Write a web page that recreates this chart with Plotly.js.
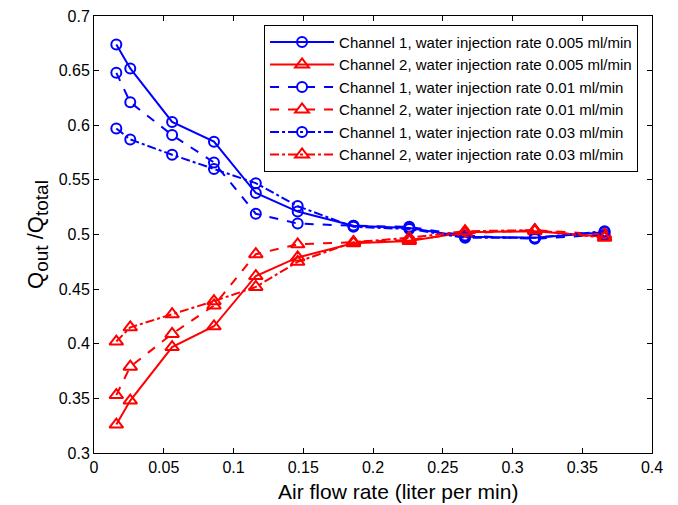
<!DOCTYPE html>
<html>
<head>
<meta charset="utf-8">
<script src="https://cdn.plot.ly/plotly-3.0.1.min.js"></script>
<style>body{margin:0;background:#fff}#plot{width:678px;height:505px}</style>
</head>
<body>
<div id="plot"></div>
<script>
const airFlow = [0.016, 0.026, 0.056, 0.086, 0.116, 0.146, 0.186, 0.226, 0.266, 0.316, 0.366];
const ch1_0005 = [0.674, 0.652, 0.603, 0.585, 0.538, 0.521, 0.508, 0.506, 0.498, 0.497, 0.502];
const ch2_0005 = [0.326, 0.348, 0.397, 0.416, 0.462, 0.479, 0.492, 0.494, 0.502, 0.503, 0.498];
const ch1_001 = [0.648, 0.621, 0.591, 0.566, 0.519, 0.510, 0.508, 0.507, 0.499, 0.496, 0.500];
const ch2_001 = [0.353, 0.379, 0.409, 0.435, 0.482, 0.491, 0.493, 0.495, 0.501, 0.504, 0.500];
const ch1_003 = [0.597, 0.587, 0.573, 0.560, 0.547, 0.526, 0.507, 0.505, 0.497, 0.497, 0.503];
const ch2_003 = [0.402, 0.415, 0.427, 0.439, 0.452, 0.475, 0.493, 0.497, 0.503, 0.504, 0.497];
const names = [
  "Channel 1, water injection rate 0.005 ml/min",
  "Channel 2, water injection rate 0.005 ml/min",
  "Channel 1, water injection rate 0.01 ml/min",
  "Channel 2, water injection rate 0.01 ml/min",
  "Channel 1, water injection rate 0.03 ml/min",
  "Channel 2, water injection rate 0.03 ml/min"
];
const xTicks = [0, 0.05, 0.1, 0.15, 0.2, 0.25, 0.3, 0.35, 0.4];
const xTickText = ["0", "0.05", "0.1", "0.15", "0.2", "0.25", "0.3", "0.35", "0.4"];
const yTicks = [0.3, 0.35, 0.4, 0.45, 0.5, 0.55, 0.6, 0.65, 0.7];
const yTickText = ["0.3", "0.35", "0.4", "0.45", "0.5", "0.55", "0.6", "0.65", "0.7"];
const xTitle = "Air flow rate (liter per min)";
const yTitle = "Q<sub><span style='font-size:19px'>out</span></sub> /Q<sub><span style='font-size:19px'>total</span></sub>";

const series = [ch1_0005, ch2_0005, ch1_001, ch2_001, ch1_003, ch2_003];
const dashes = ["solid", "solid", "dash", "dash", "dashdot", "dashdot"];
const FONT = "Liberation Sans, Arial, Helvetica, sans-serif";

const traces = series.map((ys, i) => {
  const blue = i % 2 === 0;
  const col = blue ? "#0000ff" : "#ff0000";
  return {
    x: airFlow, y: ys, name: names[i], type: "scatter", mode: "lines+markers",
    line: {color: col, width: 2, dash: dashes[i]},
    marker: {symbol: blue ? "circle-open" : "triangle-up-open", size: blue ? 10 : 12,
             color: col, line: {color: col, width: 2}}
  };
});

const axisCommon = {
  showgrid: false, zeroline: false, showline: true, linecolor: "#000", linewidth: 1,
  mirror: "ticks", ticks: "inside", ticklen: 5, tickcolor: "#000",
  tickfont: {family: FONT, size: 16, color: "#000"}
};

const layout = {
  width: 678, height: 505,
  margin: {l: 94, r: 26, t: 16, b: 52},
  paper_bgcolor: "#fff", plot_bgcolor: "#fff",
  showlegend: true,
  legend: {x: 0.975, xanchor: "right", y: 0.98, yanchor: "top",
           bordercolor: "#000", borderwidth: 1, bgcolor: "#fff",
           font: {family: FONT, size: 15, color: "#000"},
           itemwidth: 64, tracegroupgap: 0},
  xaxis: Object.assign({}, axisCommon, {
    range: [0, 0.4], tickvals: xTicks, ticktext: xTickText
  }),
  yaxis: Object.assign({}, axisCommon, {
    range: [0.3, 0.7], tickvals: yTicks, ticktext: yTickText,
    title: {text: yTitle, standoff: 8,
            font: {family: FONT, size: 22, color: "#000"}}
  }),
  annotations: [{
    text: xTitle, xref: "paper", yref: "paper", x: 0.545, y: -0.089,
    xanchor: "center", yanchor: "middle", showarrow: false,
    font: {family: FONT, size: 21, color: "#000"}
  }]
};

Plotly.newPlot("plot", traces, layout, {displayModeBar: false, staticPlot: true});
</script>
</body>
</html>
